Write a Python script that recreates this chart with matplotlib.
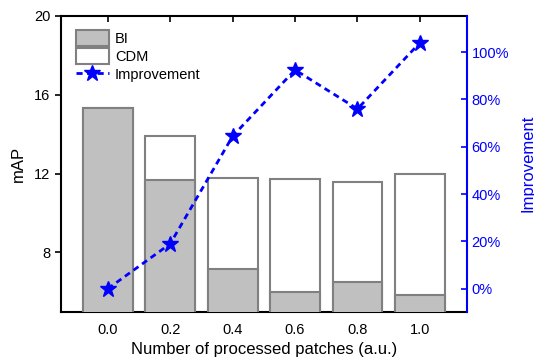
import matplotlib
matplotlib.use("Agg")
import matplotlib.pyplot as plt
from matplotlib.ticker import FuncFormatter

plt.rcParams['font.family'] = ['Liberation Sans', 'DejaVu Sans']

patches = [0.0, 0.2, 0.4, 0.6, 0.8, 1.0]
bi = [15.3, 11.65, 7.15, 6.0, 6.5, 5.85]
cdm = [15.3, 13.9, 11.75, 11.7, 11.55, 11.97]
improvement = [0, 19, 64.5, 92.5, 76, 104]

blue = '#0000ff'
fig = plt.figure(figsize=(5.34, 3.62), dpi=100)
ax = fig.add_axes([0.1142, 0.139, 0.874 - 0.1142, 0.9566 - 0.139])

ax.bar(patches, cdm, width=0.16, color='white', edgecolor='#808080', linewidth=1.5, label='CDM', zorder=2)
ax.bar(patches, bi, width=0.16, color='#c0c0c0', edgecolor='#808080', linewidth=1.5, label='BI', zorder=3)
ax.set_xlim(-0.15, 1.15)
ax.set_ylim(5, 20)
ax.set_yticks([8, 12, 16, 20])
ax.set_xticks(patches)
ax.set_xticklabels(['%.1f' % p for p in patches])
ax.set_ylabel('mAP', fontsize=12, labelpad=6)
ax.set_xlabel('Number of processed patches (a.u.)', fontsize=12)
ax.tick_params(axis='y', direction='out', length=4, width=1.2, labelsize=10.5)
ax.tick_params(axis='x', direction='in', length=4, width=1.2, labelsize=10.5, top=True, pad=8)
for s in ['left', 'top', 'bottom']:
    ax.spines[s].set_linewidth(1.5)
ax.spines['right'].set_visible(False)

ax2 = ax.twinx()
ax2.plot(patches, improvement, color=blue, linestyle='--', linewidth=2, dashes=(2.2, 1.6),
         marker='*', markersize=12, label='Improvement', zorder=4)
ax2.set_ylim(-9.7, 115.4)
ax2.set_yticks([0, 20, 40, 60, 80, 100])
ax2.yaxis.set_major_formatter(FuncFormatter(lambda v, p: '%d%%' % v))
ax2.set_ylabel('Improvement', color=blue, fontsize=12, labelpad=8)
ax2.tick_params(axis='y', direction='in', length=4, width=1.2, colors=blue, labelsize=10.5)
ax2.spines['right'].set_color(blue)
ax2.spines['right'].set_linewidth(1.5)
for s in ['left', 'top', 'bottom']:
    ax2.spines[s].set_visible(False)

h1, l1 = ax.get_legend_handles_labels()
h2, l2 = ax2.get_legend_handles_labels()
ax.legend([h1[1], h1[0], h2[0]], [l1[1], l1[0], l2[0]], loc='upper left', frameon=False,
          fontsize=10.5, handlelength=2.3, handleheight=1.3, labelspacing=0.15,
          handletextpad=0.4, borderaxespad=0.6)

fig.savefig('out.png', dpi=100)
